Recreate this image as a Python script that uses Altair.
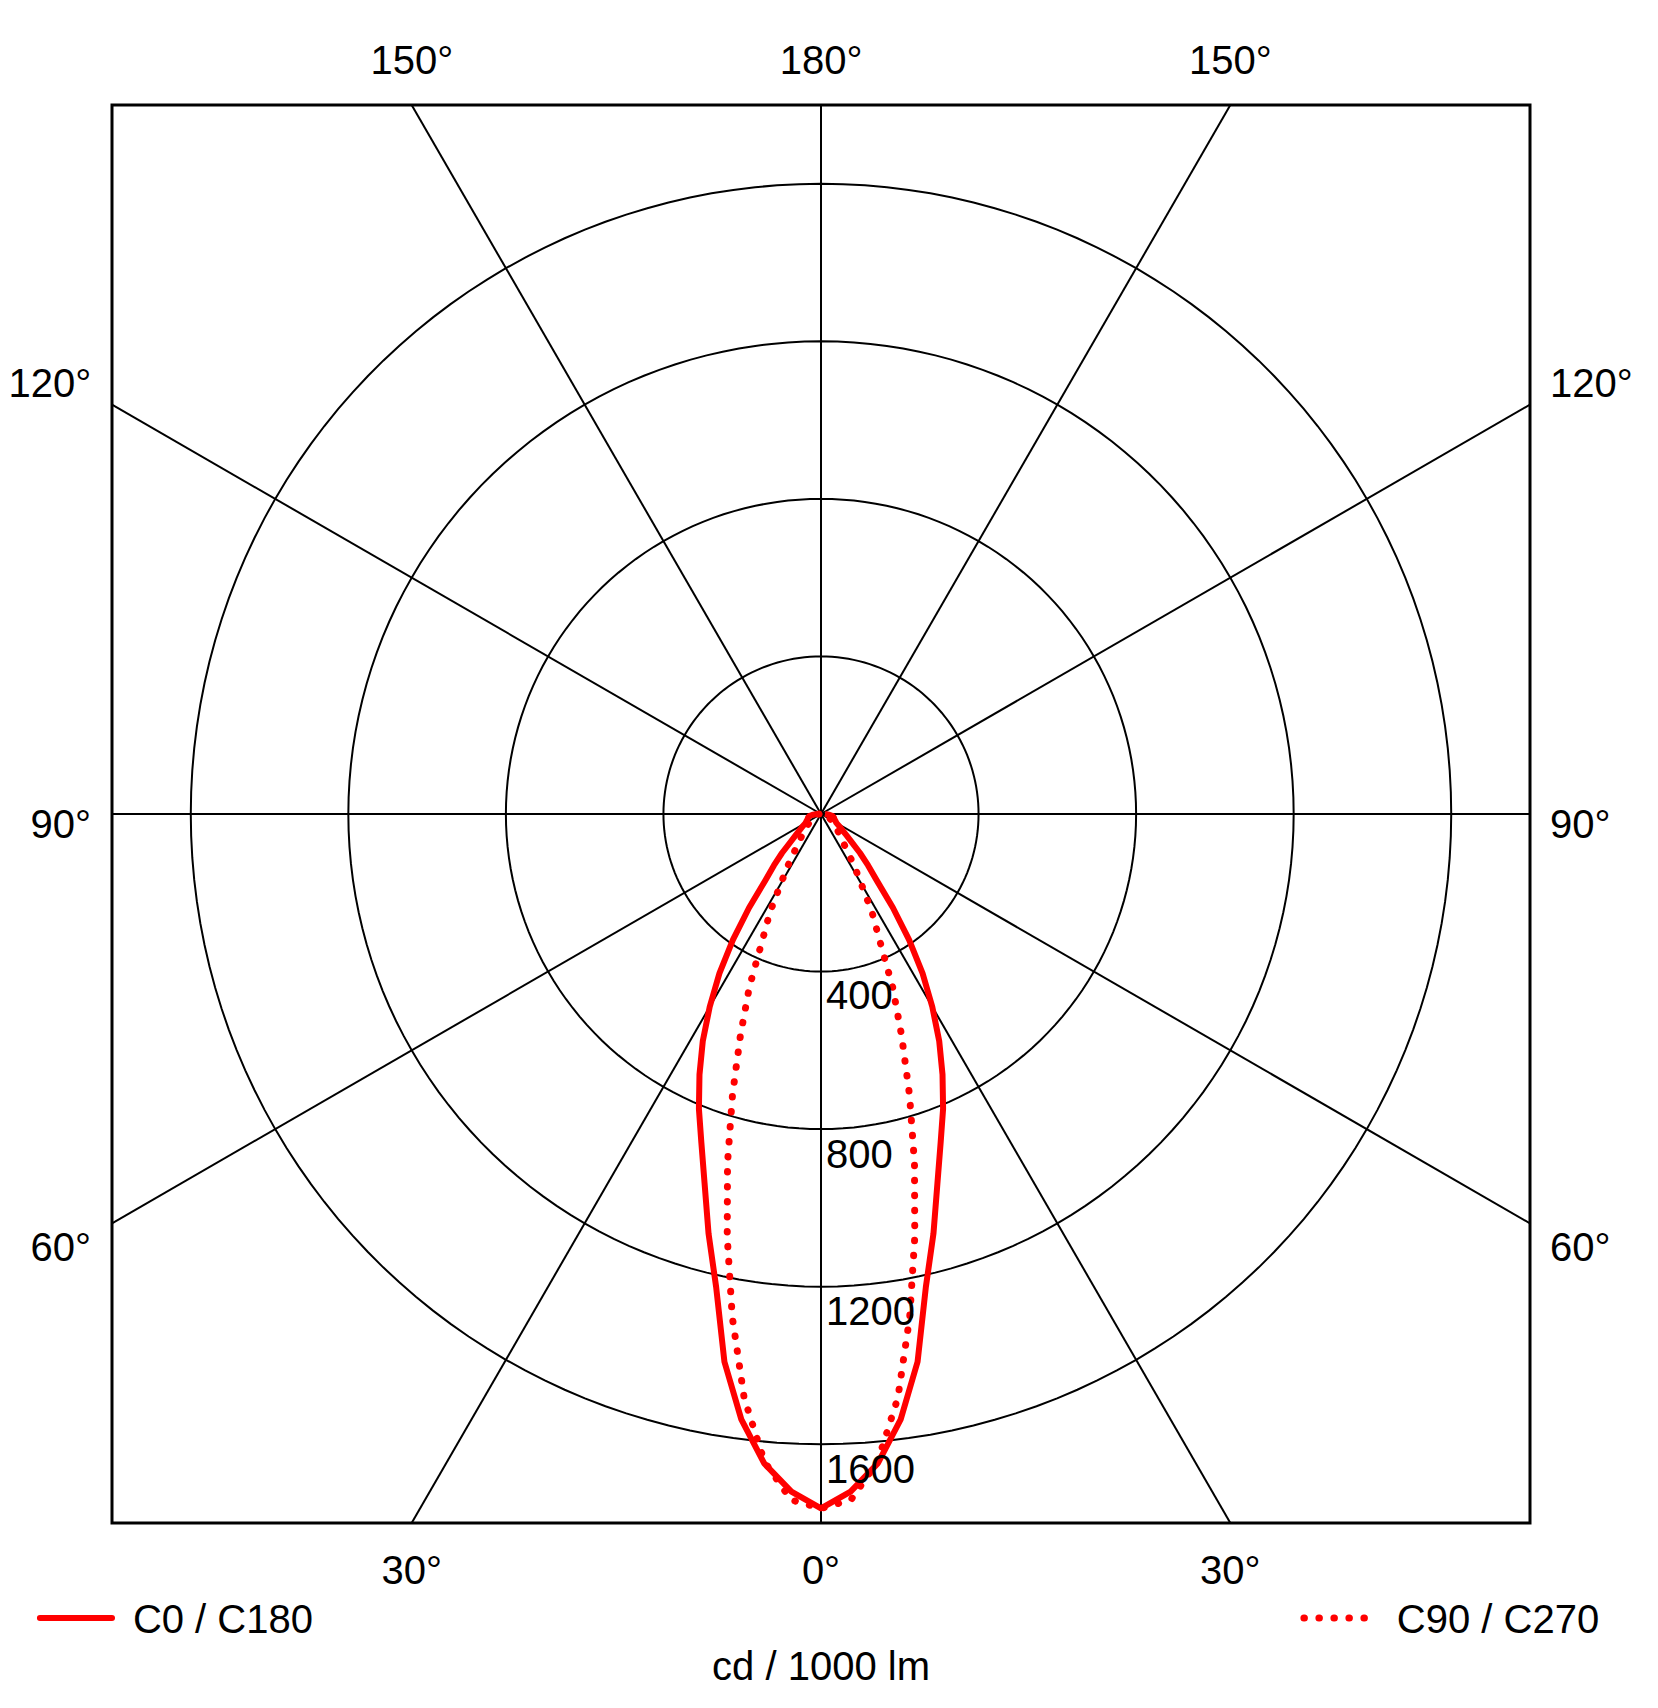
import math
import altair as alt
import pandas as pd

# ---- data (gamma angle in degrees, cd / 1000 lm) ----
gamma = [0, 2.5, 5, 7.5, 10, 12.5, 15, 17.5, 20, 22.5, 25, 27.5, 30, 32.5, 35,
         37.5, 40, 42.5, 45, 47.5, 50, 55, 60, 65, 70, 75, 80, 85, 90]
cd_c0_c180 = [1763, 1722, 1655, 1550, 1412, 1230, 1103, 983, 888, 810, 730, 650, 565,
              480, 390, 300, 220, 177, 140, 105, 85, 60, 45, 40, 36, 34, 30, 20, 10]
cd_c90_c270 = [1763, 1743, 1650, 1495, 1297, 1100, 917, 747, 598, 475, 350, 280, 203,
               158, 120, 95, 80, 70, 60, 52, 45, 35, 28, 24, 20, 16, 12, 8, 5]

ring_values = [400, 800, 1200, 1600]
ring_labels = ["400", "800", "1200", "1600"]
spoke_angles = list(range(0, 360, 30))
series_names = ["C0 / C180", "C90 / C270"]
unit_label = "cd / 1000 lm"
LIM = 1800

FONT = "Liberation Sans"
FS = 40
RED = "#ff0000"
DY = -11  # small text shift (data units)

xs = alt.Scale(domain=[-LIM, LIM], nice=False, zero=False)
ys = alt.Scale(domain=[-LIM, LIM], nice=False, zero=False)


def X(f):
    return alt.X(f, type="quantitative", scale=xs, axis=None)


def Y(f):
    return alt.Y(f, type="quantitative", scale=ys, axis=None)


# ---- curves (polar -> cartesian, 0 deg pointing down) ----
def curve_rows(values, name):
    rows = []
    pts = [(-g, v) for g, v in zip(gamma, values)][::-1] + [(g, v) for g, v in zip(gamma, values)][1:]
    for i, (g, v) in enumerate(pts):
        a = math.radians(g)
        rows.append({"series": name, "o": i, "x": v * math.sin(a), "y": -v * math.cos(a)})
    return rows


curve_df = pd.DataFrame(curve_rows(cd_c0_c180, series_names[0]) + curve_rows(cd_c90_c270, series_names[1]))

# ---- grid rings ----
ring_rows = []
for r in ring_values:
    for i, t in enumerate(range(0, 361, 2)):
        a = math.radians(t)
        ring_rows.append({"r": r, "o": i, "x": r * math.cos(a), "y": r * math.sin(a)})
ring_df = pd.DataFrame(ring_rows)

# ---- spokes to the frame ----
spoke_rows = []
for s in spoke_angles:
    a = math.radians(s)
    dx, dy = math.sin(a), -math.cos(a)
    t = LIM / max(abs(dx), abs(dy))
    spoke_rows.append({"x": 0, "y": 0, "x2": dx * t, "y2": dy * t})
spoke_df = pd.DataFrame(spoke_rows)

# ---- angle labels ----
top_df = pd.DataFrame({"x": [-1039, 0, 1039], "y": [1919 + DY] * 3, "t": ["150°", "180°", "150°"]})
bot_df = pd.DataFrame({"x": [-1039, 0, 1039], "y": [-1914 + DY] * 3, "t": ["30°", "0°", "30°"]})
left_df = pd.DataFrame({"x": [-1853] * 3, "y": [1099 + DY, -20 + DY, -1094 + DY], "t": ["120°", "90°", "60°"]})
right_df = pd.DataFrame({"x": [1851] * 3, "y": [1099 + DY, -20 + DY, -1094 + DY], "t": ["120°", "90°", "60°"]})
rl_df = pd.DataFrame({"x": [13] * 4, "y": [-454 + DY, -857 + DY, -1257 + DY, -1656 + DY], "t": ring_labels})

rings = alt.Chart(ring_df).mark_line(color="black", strokeWidth=2).encode(
    x=X("x"), y=Y("y"), detail="r:N", order="o:Q")
spokes = alt.Chart(spoke_df).mark_rule(color="black", strokeWidth=2).encode(
    x=X("x"), y=Y("y"), x2="x2", y2="y2")
frame = alt.Chart(pd.DataFrame({"x": [-LIM], "x2": [LIM], "y": [-LIM], "y2": [LIM]})).mark_rect(
    filled=False, stroke="black", strokeWidth=3).encode(x=X("x"), y=Y("y"), x2="x2", y2="y2")

solid = alt.Chart(curve_df[curve_df.series == series_names[0]]).mark_line(
    color=RED, strokeWidth=6, strokeJoin="round").encode(x=X("x"), y=Y("y"), order="o:Q")
dotted = alt.Chart(curve_df[curve_df.series == series_names[1]]).mark_line(
    color=RED, strokeWidth=7, strokeDash=[0.5, 14.5], strokeCap="round").encode(
    x=X("x"), y=Y("y"), order="o:Q")


def txt(df, align):
    return alt.Chart(df).mark_text(font=FONT, fontSize=FS, align=align, baseline="middle",
                                   color="black").encode(x=X("x"), y=Y("y"), text="t:N")


labels = (txt(top_df, "center") + txt(bot_df, "center") + txt(left_df, "right")
          + txt(right_df, "left") + txt(rl_df, "left"))

leg_solid = alt.Chart(pd.DataFrame({"x": [-1983], "x2": [-1800], "y": [-2041]})).mark_rule(
    color=RED, strokeWidth=6, strokeCap="round").encode(x=X("x"), x2="x2", y=Y("y"))
leg_dot = alt.Chart(pd.DataFrame({"x": [1226], "x2": [1381], "y": [-2041]})).mark_rule(
    color=RED, strokeWidth=7, strokeDash=[0.5, 14.5], strokeCap="round").encode(x=X("x"), x2="x2", y=Y("y"))
leg_txt = txt(pd.DataFrame({"x": [-1747, 1462], "y": [-2039 + DY] * 2, "t": series_names}), "left")
unit_txt = txt(pd.DataFrame({"x": [0], "y": [-2158 + DY], "t": [unit_label]}), "center")

chart = alt.layer(rings, spokes, solid, dotted, frame, labels, leg_solid, leg_dot, leg_txt, unit_txt).properties(
    width=1418, height=1418,
    autosize=alt.AutoSizeParams(type="none"),
    padding={"left": 104, "top": 97, "right": 110, "bottom": 170},
).configure_view(stroke=None)

chart.save("out.html", embed_options={"renderer": "svg", "actions": False})
